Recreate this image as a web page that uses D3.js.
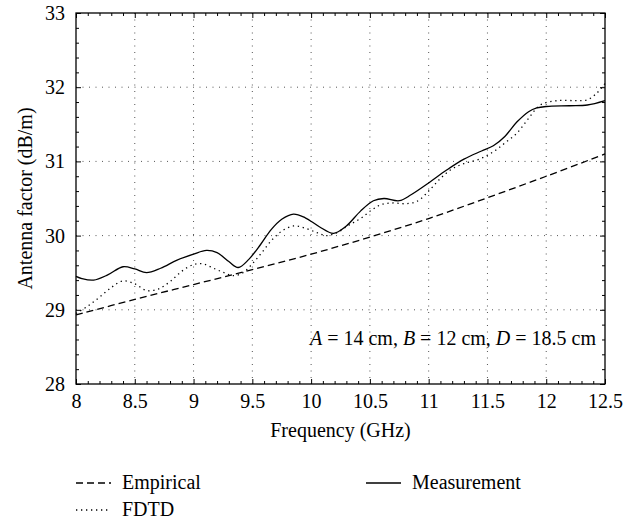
<!DOCTYPE html>
<html>
<head>
<meta charset="utf-8">
<script src="https://cdn.jsdelivr.net/npm/d3@7"></script>
</head>
<body style="margin:0; background:#fff">
<div id="chart"></div>
<script>
// Empirical (dashed)
const empFreq = [8, 8.5, 9, 9.5, 10, 10.5, 11, 11.5, 12, 12.5];
const empValues = [28.93, 29.14, 29.34, 29.54, 29.75, 29.98, 30.23, 30.51, 30.80, 31.10];

// FDTD (dotted)
const fdtdFreq = [8, 8.1, 8.2, 8.3, 8.4, 8.5, 8.6, 8.7, 8.8, 8.9, 9.0, 9.08, 9.17, 9.26, 9.34, 9.42, 9.5, 9.58, 9.66, 9.75, 9.85, 9.95, 10.05, 10.13, 10.22, 10.32, 10.42, 10.52, 10.6, 10.7, 10.8, 10.9, 11.0, 11.1, 11.2, 11.3, 11.43, 11.55, 11.65, 11.75, 11.85, 11.95, 12.1, 12.25, 12.35, 12.43, 12.5];
const fdtdValues = [28.95, 29.05, 29.17, 29.30, 29.39, 29.35, 29.26, 29.28, 29.38, 29.52, 29.61, 29.62, 29.56, 29.50, 29.46, 29.50, 29.62, 29.77, 29.93, 30.06, 30.13, 30.10, 30.04, 30.00, 30.04, 30.14, 30.23, 30.35, 30.42, 30.44, 30.43, 30.46, 30.60, 30.77, 30.90, 30.97, 31.03, 31.13, 31.25, 31.38, 31.58, 31.76, 31.82, 31.82, 31.83, 31.92, 32.05];

// Measurement (solid)
const measFreq = [8, 8.05, 8.15, 8.27, 8.4, 8.5, 8.6, 8.72, 8.86, 9.0, 9.11, 9.2, 9.3, 9.38, 9.47, 9.57, 9.66, 9.75, 9.85, 9.95, 10.07, 10.19, 10.3, 10.42, 10.53, 10.62, 10.75, 10.85, 11.0, 11.15, 11.3, 11.45, 11.55, 11.65, 11.75, 11.85, 11.92, 12.0, 12.2, 12.35, 12.5];
const measValues = [29.45, 29.42, 29.40, 29.47, 29.58, 29.55, 29.50, 29.56, 29.67, 29.75, 29.80, 29.77, 29.65, 29.57, 29.68, 29.88, 30.08, 30.22, 30.29, 30.24, 30.12, 30.03, 30.13, 30.33, 30.47, 30.50, 30.47, 30.55, 30.71, 30.88, 31.03, 31.14, 31.21, 31.34, 31.53, 31.67, 31.72, 31.74, 31.75, 31.76, 31.82];

const xTicks = [8, 8.5, 9, 9.5, 10, 10.5, 11, 11.5, 12, 12.5];
const yTicks = [28, 29, 30, 31, 32, 33];

const config = {
    width: 641,
    height: 523,
    margin: { top: 13, right: 36, bottom: 139, left: 76 },
    font: "Liberation Serif",
    fontSize: 20,
};

const svg = d3.select("#chart").append("svg")
    .attr("width", config.width)
    .attr("height", config.height);

const x = d3.scaleLinear().domain([8, 12.5]).range([config.margin.left, config.width - config.margin.right]);
const y = d3.scaleLinear().domain([28, 33]).range([config.height - config.margin.bottom, config.margin.top]);

const xMinor = d3.range(80, 126).map(d => d / 10).filter(d => !xTicks.includes(d));
const yMinor = d3.range(140, 166).map(d => d / 5).filter(d => !yTicks.includes(d));

const plotBottom = y(28), plotTop = y(33), plotLeft = x(8), plotRight = x(12.5);

// grid
const grid = svg.append("g")
    .attr("stroke", "#555")
    .attr("stroke-width", 1)
    .attr("stroke-dasharray", "1,5.5");
grid.selectAll(".gx")
    .data(xTicks.slice(1, -1))
    .join("line")
    .attr("class", "gx")
    .attr("x1", d => x(d)).attr("x2", d => x(d))
    .attr("y1", plotTop).attr("y2", plotBottom);
grid.selectAll(".gy")
    .data(yTicks.slice(1, -1))
    .join("line")
    .attr("class", "gy")
    .attr("x1", plotLeft).attr("x2", plotRight)
    .attr("y1", d => y(d)).attr("y2", d => y(d));

// axes: ticks inward on all four sides
const axis = (pos, ax) => svg.append("g")
    .attr("transform", pos)
    .call(ax)
    .call(g => g.select(".domain").remove());

axis(`translate(0,${plotBottom})`, d3.axisBottom(x).tickValues(xTicks).tickSize(-5).tickPadding(10).tickFormat(d3.format("")));
axis(`translate(0,${plotBottom})`, d3.axisBottom(x).tickValues(xMinor).tickSize(-3).tickFormat(""));
axis(`translate(0,${plotTop})`, d3.axisTop(x).tickValues(xTicks).tickSize(-5).tickFormat(""));
axis(`translate(0,${plotTop})`, d3.axisTop(x).tickValues(xMinor).tickSize(-3).tickFormat(""));
axis(`translate(${plotLeft},0)`, d3.axisLeft(y).tickValues(yTicks).tickSize(-5).tickPadding(11).tickFormat(d3.format("d")));
axis(`translate(${plotLeft},0)`, d3.axisLeft(y).tickValues(yMinor).tickSize(-3).tickFormat(""));
axis(`translate(${plotRight},0)`, d3.axisRight(y).tickValues(yTicks).tickSize(-5).tickFormat(""));
axis(`translate(${plotRight},0)`, d3.axisRight(y).tickValues(yMinor).tickSize(-3).tickFormat(""));

svg.append("rect")
    .attr("x", plotLeft).attr("y", plotTop)
    .attr("width", plotRight - plotLeft).attr("height", plotBottom - plotTop)
    .attr("fill", "none")
    .attr("stroke", "#000")
    .attr("stroke-width", 1.3);

// series
const line = d3.line()
    .x(d => x(d[0]))
    .y(d => y(d[1]))
    .curve(d3.curveCatmullRom.alpha(0.5));

const series = [
    { name: "Empirical", freq: empFreq, values: empValues, dash: "7,4" },
    { name: "FDTD", freq: fdtdFreq, values: fdtdValues, dash: "1.3,3.7" },
    { name: "Measurement", freq: measFreq, values: measValues, dash: null },
];

svg.append("g")
    .selectAll("path")
    .data(series)
    .join("path")
    .attr("fill", "none")
    .attr("stroke", "#000")
    .attr("stroke-width", 1.3)
    .attr("stroke-dasharray", d => d.dash)
    .attr("d", d => line(d.freq.map((f, i) => [f, d.values[i]])));

// axis titles
svg.append("text")
    .attr("x", (plotLeft + plotRight) / 2)
    .attr("y", 437)
    .attr("text-anchor", "middle")
    .text("Frequency (GHz)");

svg.append("text")
    .attr("transform", `translate(32,${(plotTop + plotBottom) / 2}) rotate(-90)`)
    .attr("text-anchor", "middle")
    .text("Antenna factor (dB/m)");

// annotation
const note = svg.append("text")
    .attr("x", 596)
    .attr("y", 345)
    .attr("text-anchor", "end");
note.append("tspan").attr("font-style", "italic").text("A");
note.append("tspan").text(" = 14 cm, ");
note.append("tspan").attr("font-style", "italic").text("B");
note.append("tspan").text(" = 12 cm, ");
note.append("tspan").attr("font-style", "italic").text("D");
note.append("tspan").text(" = 18.5 cm");

// legend
const legendPos = [
    { x: 76, y: 483 },
    { x: 76, y: 510 },
    { x: 366, y: 483 },
];
const legend = svg.append("g")
    .selectAll("g")
    .data(series)
    .join("g")
    .attr("transform", (d, i) => `translate(${legendPos[i].x},${legendPos[i].y})`);
legend.append("line")
    .attr("x1", 0).attr("x2", 35)
    .attr("stroke", "#000")
    .attr("stroke-width", 1.3)
    .attr("stroke-dasharray", d => d.dash);
legend.append("text")
    .attr("x", 46)
    .attr("y", 6)
    .text(d => d.name);

// same serif face on every text, set on the element itself
svg.selectAll("text, tspan")
    .attr("font-family", config.font)
    .attr("font-size", config.fontSize)
    .attr("fill", "#000")
    .style("font-family", `"${config.font}", Tinos, serif`, "important");
</script>
</body>
</html>
